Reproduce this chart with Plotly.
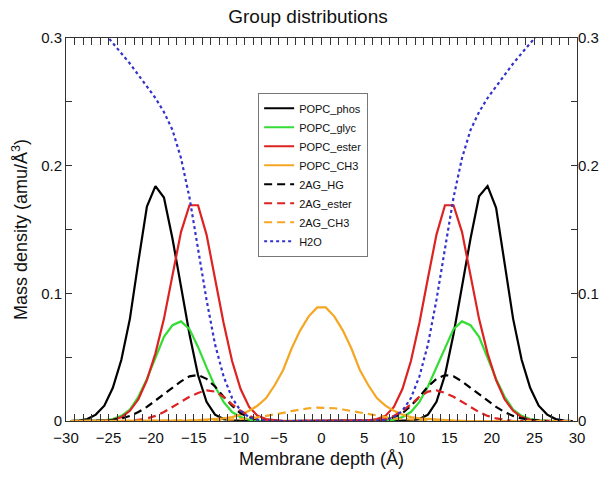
import plotly.graph_objects as go

depth = [-29.5, -28.5, -27.5, -26.5, -25.5, -24.5, -23.5, -22.5, -21.5, -20.5,
         -19.5, -18.5, -17.5, -16.5, -15.5, -14.5, -13.5, -12.5, -11.5, -10.5,
         -9.5, -8.5, -7.5, -6.5, -5.5, -4.5, -3.5, -2.5, -1.5, -0.5,
         0.5, 1.5, 2.5, 3.5, 4.5, 5.5, 6.5, 7.5, 8.5, 9.5,
         10.5, 11.5, 12.5, 13.5, 14.5, 15.5, 16.5, 17.5, 18.5, 19.5,
         20.5, 21.5, 22.5, 23.5, 24.5, 25.5, 26.5, 27.5, 28.5, 29.5]

popc_phos = [0, 0.0003, 0.0015, 0.005, 0.012, 0.026, 0.048, 0.080, 0.125, 0.168,
             0.184, 0.175, 0.143, 0.105, 0.068, 0.036, 0.015, 0.005, 0.0015, 0.0005,
             0, 0, 0, 0, 0, 0, 0, 0, 0, 0,
             0, 0, 0, 0, 0, 0, 0, 0, 0, 0,
             0.0005, 0.0015, 0.005, 0.015, 0.036, 0.068, 0.105, 0.143, 0.176, 0.184,
             0.167, 0.125, 0.080, 0.048, 0.026, 0.012, 0.005, 0.0015, 0.0003, 0]

popc_glyc = [0, 0, 0, 0, 0.0005, 0.0015, 0.004, 0.009, 0.019, 0.033,
             0.050, 0.066, 0.075, 0.078, 0.072, 0.058, 0.042, 0.027, 0.015, 0.007,
             0.003, 0.001, 0, 0, 0, 0, 0, 0, 0, 0,
             0, 0, 0, 0, 0, 0, 0, 0, 0.001, 0.003,
             0.007, 0.015, 0.027, 0.042, 0.058, 0.072, 0.078, 0.075, 0.066, 0.050,
             0.033, 0.019, 0.009, 0.004, 0.0015, 0.0005, 0, 0, 0, 0]

popc_ester = [0, 0, 0, 0, 0.0003, 0.001, 0.003, 0.008, 0.017, 0.032,
              0.053, 0.080, 0.115, 0.148, 0.169, 0.169, 0.146, 0.112, 0.077, 0.047,
              0.025, 0.011, 0.004, 0.0015, 0.0005, 0, 0, 0, 0, 0,
              0, 0, 0, 0, 0, 0.0005, 0.0015, 0.004, 0.011, 0.025,
              0.047, 0.077, 0.112, 0.146, 0.169, 0.169, 0.148, 0.115, 0.080, 0.053,
              0.032, 0.017, 0.008, 0.003, 0.001, 0.0003, 0, 0, 0, 0]

popc_ch3 = [0, 0, 0, 0, 0, 0, 0, 0, 0, 0,
            0, 0, 0, 0, 0.0005, 0.0007, 0.001, 0.0015, 0.002, 0.003,
            0.005, 0.008, 0.012, 0.018, 0.028, 0.040, 0.057, 0.071, 0.082, 0.089,
            0.089, 0.082, 0.071, 0.057, 0.040, 0.028, 0.018, 0.012, 0.008, 0.005,
            0.003, 0.002, 0.0015, 0.001, 0.0007, 0.0005, 0, 0, 0, 0,
            0, 0, 0, 0, 0, 0, 0, 0, 0, 0]

ag_hg = [0, 0, 0, 0, 0.0003, 0.001, 0.002, 0.004, 0.007, 0.011,
         0.016, 0.021, 0.026, 0.031, 0.035, 0.036, 0.033, 0.027, 0.019, 0.012,
         0.006, 0.003, 0.001, 0, 0, 0, 0, 0, 0, 0,
         0, 0, 0, 0, 0, 0, 0, 0.001, 0.003, 0.006,
         0.012, 0.019, 0.027, 0.033, 0.036, 0.035, 0.031, 0.026, 0.021, 0.016,
         0.011, 0.007, 0.004, 0.002, 0.001, 0.0003, 0, 0, 0, 0]

ag_ester = [0, 0, 0, 0, 0, 0, 0, 0, 0.001, 0.002,
            0.004, 0.007, 0.011, 0.015, 0.019, 0.022, 0.024, 0.023, 0.019, 0.013,
            0.008, 0.004, 0.0015, 0.0005, 0, 0, 0, 0, 0, 0,
            0, 0, 0, 0, 0, 0, 0.0005, 0.0015, 0.004, 0.008,
            0.013, 0.019, 0.023, 0.024, 0.022, 0.019, 0.015, 0.011, 0.007, 0.004,
            0.002, 0.001, 0, 0, 0, 0, 0, 0, 0, 0]

ag_ch3 = [0, 0, 0, 0, 0, 0, 0, 0, 0, 0,
          0, 0, 0, 0, 0, 0.0002, 0.0003, 0.0005, 0.0008, 0.0011,
          0.0015, 0.002, 0.0028, 0.0038, 0.005, 0.0064, 0.0078, 0.009, 0.010, 0.0105,
          0.0105, 0.010, 0.009, 0.0078, 0.0064, 0.005, 0.0038, 0.0028, 0.002, 0.0015,
          0.0011, 0.0008, 0.0005, 0.0003, 0.0002, 0, 0, 0, 0, 0,
          0, 0, 0, 0, 0, 0, 0, 0, 0, 0]

h2o = [0.335, 0.328, 0.320, 0.312, 0.304, 0.296, 0.288, 0.280, 0.271, 0.262,
       0.253, 0.242, 0.228, 0.206, 0.175, 0.135, 0.095, 0.060, 0.035, 0.018,
       0.008, 0.003, 0.001, 0.0003, 0, 0, 0, 0, 0, 0,
       0, 0, 0, 0, 0, 0, 0.0003, 0.001, 0.003, 0.008,
       0.018, 0.035, 0.060, 0.095, 0.135, 0.175, 0.206, 0.228, 0.242, 0.253,
       0.262, 0.271, 0.280, 0.288, 0.296, 0.304, 0.312, 0.320, 0.328, 0.335]

series = [
    ("POPC_phos", popc_phos, "#000000", "solid"),
    ("POPC_glyc", popc_glyc, "#33dd33", "solid"),
    ("POPC_ester", popc_ester, "#dd2222", "solid"),
    ("POPC_CH3", popc_ch3, "#f5a623", "solid"),
    ("2AG_HG", ag_hg, "#000000", "8px,5px"),
    ("2AG_ester", ag_ester, "#dd2222", "8px,5px"),
    ("2AG_CH3", ag_ch3, "#f5a623", "8px,5px"),
    ("H2O", h2o, "#3333cc", "dot"),
]

fig = go.Figure()
for name, vals, color, dash in series:
    fig.add_trace(go.Scatter(x=depth, y=vals, mode="lines", name=name,
                             line=dict(color=color, width=2.2, dash=dash)))
fig.add_trace(go.Scatter(x=[0], y=[-1], mode="lines", yaxis="y2",
                         showlegend=False, hoverinfo="skip",
                         line=dict(color="rgba(0,0,0,0)")))

font = "Liberation Sans, Arial, sans-serif"
fig.update_layout(
    width=616, height=477,
    margin=dict(l=66, r=39, t=38, b=56),
    paper_bgcolor="white", plot_bgcolor="white",
    font=dict(family=font, size=15, color="#111"),
    title=dict(text="Group distributions", x=0.5, xanchor="center",
               y=0.966, yanchor="middle", font=dict(size=19)),
    showlegend=True,
    legend=dict(x=0.376, y=0.857, xanchor="left", yanchor="top",
                bordercolor="#777", borderwidth=1, bgcolor="white",
                font=dict(size=11), tracegroupgap=0, itemwidth=30),
    xaxis=dict(range=[-30, 30], dtick=5, tick0=0, showline=True,
               linecolor="#333", linewidth=1, mirror="allticks",
               ticks="inside", ticklen=7, tickcolor="#333", showgrid=False,
               zeroline=False, ticklabelstandoff=3,
               minor=dict(dtick=1, ticks="inside", ticklen=4, tickcolor="#333"),
               title=dict(text="Membrane depth (Å)", standoff=7)),
    yaxis=dict(range=[0, 0.3], dtick=0.1, showline=True, linecolor="#333",
               linewidth=1, mirror=True, ticks="inside", ticklen=6,
               tickcolor="#333", showgrid=False, zeroline=False,
               minor=dict(dtick=0.05, ticks="inside", ticklen=6, tickcolor="#333"),
               title=dict(text="Mass density (amu/Å<sup>3</sup>)", standoff=8)),
    yaxis2=dict(range=[0, 0.3], dtick=0.1, overlaying="y", side="right",
                ticks="inside", ticklen=6, tickcolor="#333", showgrid=False,
                zeroline=False, showline=False,
                minor=dict(dtick=0.05, ticks="inside", ticklen=6, tickcolor="#333")),
)

fig.write_html("out.html", config={"displayModeBar": False},
               post_script="document.body.style.margin='0px';")
